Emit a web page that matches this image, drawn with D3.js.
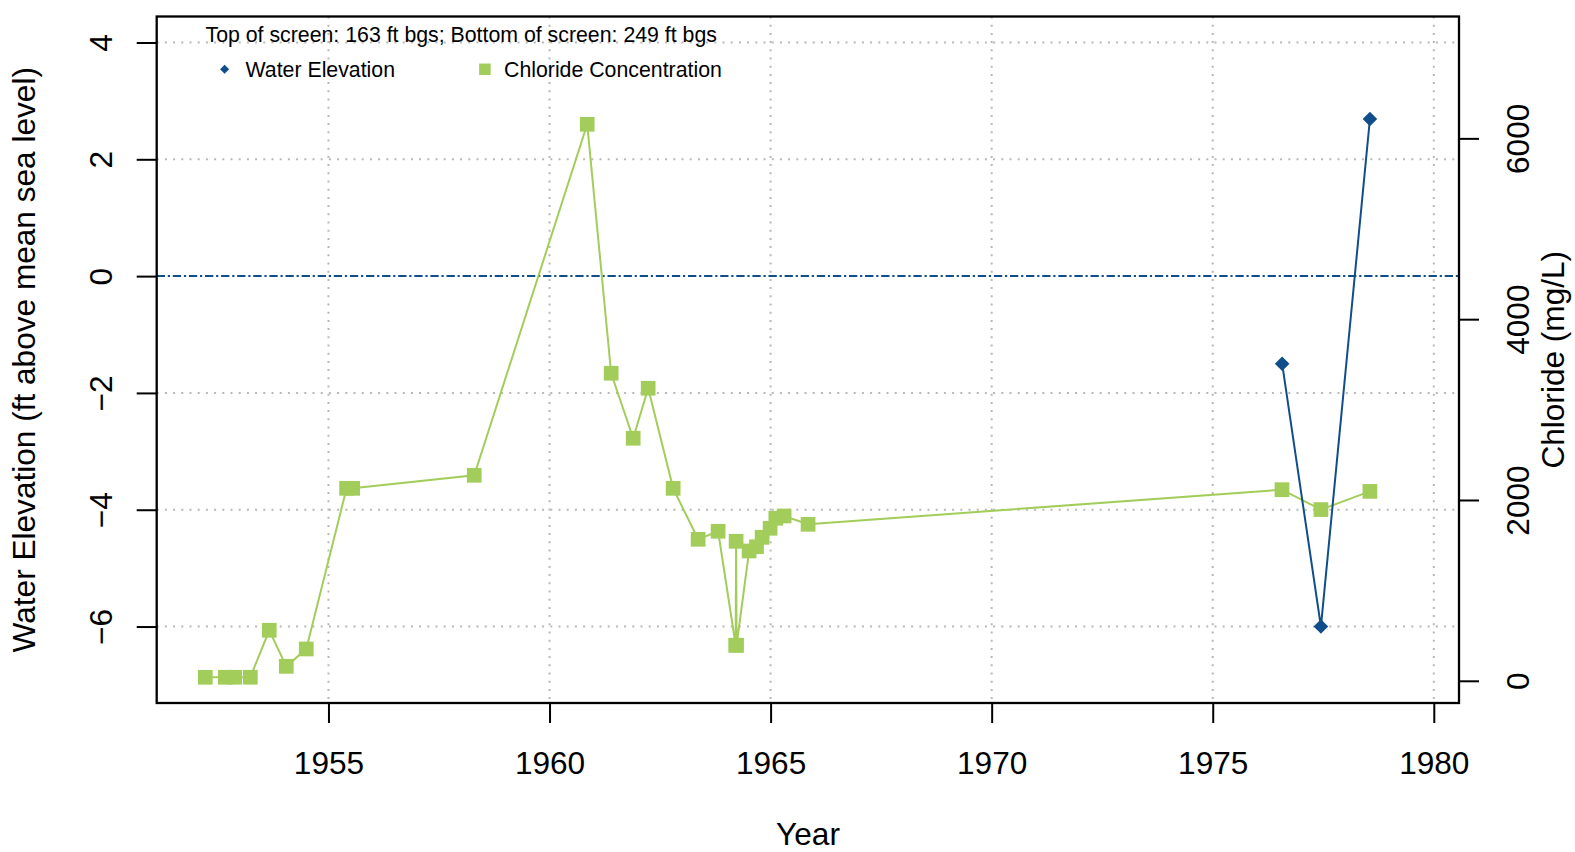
<!DOCTYPE html>
<html>
<head>
<meta charset="utf-8">
<script src="https://cdn.jsdelivr.net/npm/d3@7/dist/d3.min.js"></script>
<style>
  html, body { margin: 0; padding: 0; background: #fff; }
  svg { display: block; }
  text { font-family: "Liberation Sans", Arial, sans-serif; fill: #000; }
</style>
</head>
<body>
<svg id="chart" width="1575" height="852"></svg>
<script>
// ---- data ----
const chlorideYears = [1952.214, 1952.667, 1952.879, 1953.232, 1953.661, 1954.046, 1954.498,
  1955.41, 1955.547, 1958.297, 1960.852, 1961.394, 1961.892, 1962.231, 1962.796, 1963.361,
  1963.813, 1964.21, 1964.22, 1964.23, 1964.514, 1964.682, 1964.808, 1964.989, 1965.118,
  1965.306, 1965.848, 1976.566, 1977.447, 1978.555];
const chlorideValues = [39, 39, 39, 39, 559, 160, 352,
  2129, 2129, 2273, 6156, 3402, 2683, 3236, 2129, 1565,
  1654, 393, 1543, 393, 1436, 1483, 1587, 1687, 1798,
  1823, 1731, 2114, 1894, 2095];
const elevationYears = [1976.57, 1977.447, 1978.555];
const elevationValues = [-1.5, -6.0, 2.69];
const xTicks = [1955, 1960, 1965, 1970, 1975, 1980];
const yLeftTicks = [-6, -4, -2, 0, 2, 4];
const yRightTicks = [0, 2000, 4000, 6000];
const seaLevel = 0;
const legendTitle = "Top of screen: 163 ft bgs; Bottom of screen: 249 ft bgs";
const seriesNames = ["Water Elevation", "Chloride Concentration"];
const xLabel = "Year";
const yLeftLabel = "Water Elevation (ft above mean sea level)";
const yRightLabel = "Chloride (mg/L)";

// ---- layout ----
const L = 156.7, R = 1459, T = 16.5, B = 703;
const blue = "#104E8B", green = "#A2CD5A";
const FS = 31.6;
const svg = d3.select("#chart");

const x = d3.scaleLinear().domain([1951.115, 1980.57]).range([L, R]);
const yL = d3.scaleLinear().domain([-7.309, 4.445]).range([B, T]);
const yR = d3.scaleLinear().domain([-245.6, 7348]).range([B, T]);

const fmtMinus = d => (d < 0 ? "\u2212" + Math.abs(d) : String(d));

// grid
const grid = svg.append("g");
grid.selectAll(".vg").data(xTicks).join("line")
  .attr("x1", d => x(d)).attr("x2", d => x(d)).attr("y1", T).attr("y2", B)
  .attr("stroke", "#b8b8b8").attr("stroke-width", 2).attr("stroke-dasharray", "2,6.2");
grid.selectAll(".hg").data(yLeftTicks.filter(d => d !== 0)).join("line")
  .attr("x1", L).attr("x2", R).attr("y1", d => yL(d)).attr("y2", d => yL(d))
  .attr("stroke", "#b8b8b8").attr("stroke-width", 2).attr("stroke-dasharray", "2,6.2");

// sea level line
svg.append("line")
  .attr("x1", L).attr("x2", R).attr("y1", yL(seaLevel)).attr("y2", yL(seaLevel))
  .attr("stroke", blue).attr("stroke-width", 2).attr("stroke-dasharray", "8.3,2.8,2.2,2.8");

// chloride series
const clData = chlorideYears.map((yr, i) => ({ yr, v: chlorideValues[i] }));
svg.append("path").datum(clData)
  .attr("fill", "none").attr("stroke", green).attr("stroke-width", 2)
  .attr("d", d3.line().x(d => x(d.yr)).y(d => yR(d.v)));
svg.append("g").selectAll("rect").data(clData).join("rect")
  .attr("x", d => x(d.yr) - 7.35).attr("y", d => yR(d.v) - 7.35)
  .attr("width", 14.7).attr("height", 14.7).attr("fill", green);

// elevation series
const elData = elevationYears.map((yr, i) => ({ yr, v: elevationValues[i] }));
svg.append("path").datum(elData)
  .attr("fill", "none").attr("stroke", blue).attr("stroke-width", 2)
  .attr("d", d3.line().x(d => x(d.yr)).y(d => yL(d.v)));
const diamond = d3.symbol().type(d3.symbolSquare).size(106);
svg.append("g").selectAll("path").data(elData).join("path")
  .attr("d", diamond)
  .attr("transform", d => `translate(${x(d.yr)},${yL(d.v)}) rotate(45)`)
  .attr("fill", blue);

// box
svg.append("rect").attr("x", L).attr("y", T).attr("width", R - L).attr("height", B - T)
  .attr("fill", "none").attr("stroke", "#000").attr("stroke-width", 2.3);

// axes
function styleAxis(g) {
  g.select(".domain").remove();
  g.selectAll(".tick line").attr("stroke", "#000").attr("stroke-width", 2);
  g.selectAll(".tick text").attr("font-size", FS).attr("fill", "#000")
    .attr("font-family", "'Liberation Sans', Arial, sans-serif");
}
const gx = svg.append("g").attr("transform", `translate(0,${B})`)
  .call(d3.axisBottom(x).tickValues(xTicks).tickSize(20).tickFormat(d3.format("d")));
styleAxis(gx);
gx.selectAll(".tick text").attr("y", 70.5).attr("dy", 0);

const gl = svg.append("g").attr("transform", `translate(${L},0)`)
  .call(d3.axisLeft(yL).tickValues(yLeftTicks).tickSize(20).tickFormat(fmtMinus));
styleAxis(gl);
gl.selectAll(".tick text").attr("transform", "rotate(-90)")
  .attr("x", 0).attr("y", -45.2).attr("dy", 0).attr("text-anchor", "middle");

const gr = svg.append("g").attr("transform", `translate(${R},0)`)
  .call(d3.axisRight(yR).tickValues(yRightTicks).tickSize(20).tickFormat(d3.format("d")));
styleAxis(gr);
gr.selectAll(".tick text").attr("transform", "rotate(-90)")
  .attr("x", 0).attr("y", 70).attr("dy", 0).attr("text-anchor", "middle");

// axis titles
svg.append("text").attr("x", 808).attr("y", 844.5)
  .attr("text-anchor", "middle").attr("font-size", FS).text(xLabel);
svg.append("text").attr("transform", `translate(35,${(T + B) / 2}) rotate(-90)`)
  .attr("text-anchor", "middle").attr("font-size", FS).text(yLeftLabel);
svg.append("text").attr("transform", `translate(1564,${(T + B) / 2}) rotate(-90)`)
  .attr("text-anchor", "middle").attr("font-size", FS).text(yRightLabel);

// legend
svg.append("text").attr("x", 205.5).attr("y", 41.7).attr("font-size", 21.3).text(legendTitle);
svg.append("path").attr("d", d3.symbol().type(d3.symbolSquare).size(41))
  .attr("transform", "translate(224.6,69.3) rotate(45)").attr("fill", blue);
svg.append("text").attr("x", 245.5).attr("y", 76.5).attr("font-size", 21.3).text(seriesNames[0]);
svg.append("rect").attr("x", 484.9 - 5.75).attr("y", 69.3 - 5.75).attr("width", 11.5).attr("height", 11.5)
  .attr("fill", green);
svg.append("text").attr("x", 504).attr("y", 76.5).attr("font-size", 21.3).text(seriesNames[1]);
</script>
</body>
</html>
